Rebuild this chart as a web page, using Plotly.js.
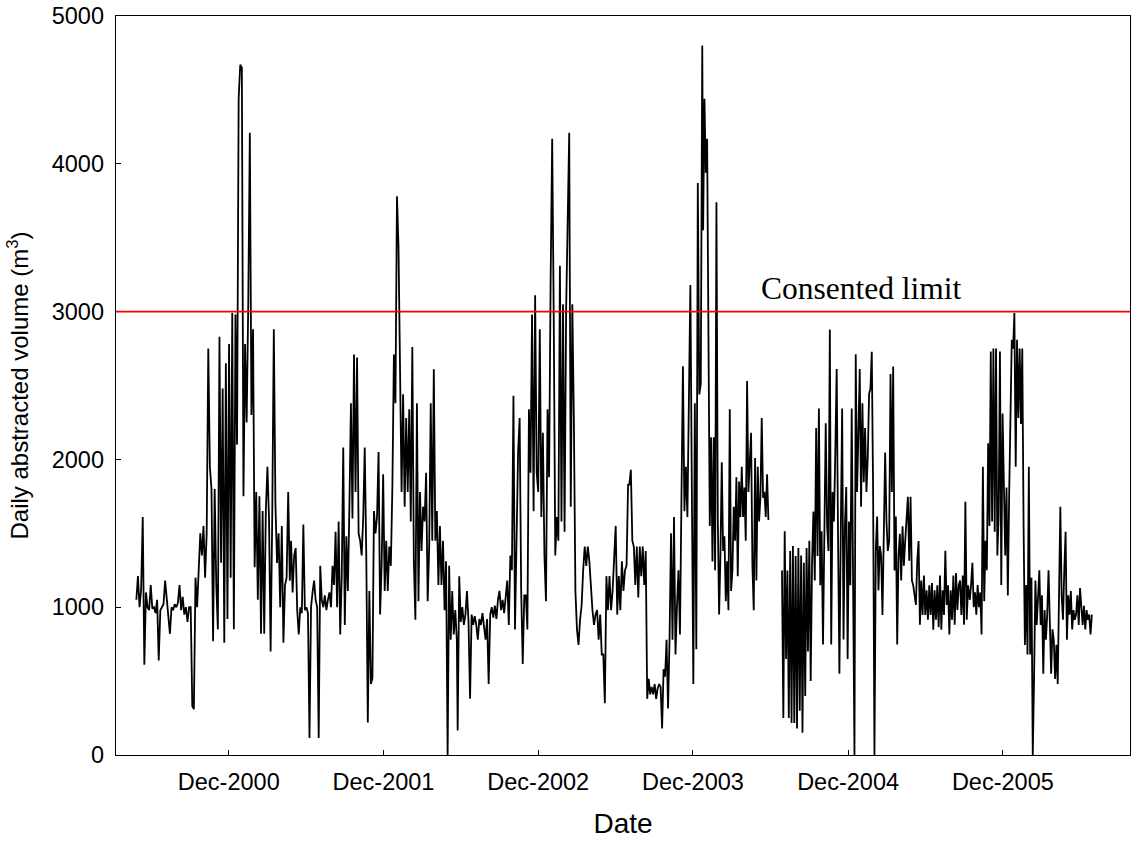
<!DOCTYPE html>
<html>
<head>
<meta charset="utf-8">
<script src="https://cdn.plot.ly/plotly-3.0.1.min.js"></script>
<style>html,body{margin:0;padding:0;background:#fff;}</style>
</head>
<body>
<div id="chart" style="width:1131px;height:841px;"></div>
<script>
// Each stretch of readings runs evenly from its start date to its end date.
const segStarts = ['2000-04-27', '2001-04-27', '2002-05-25', '2003-07-04', '2003-12-25', '2004-06-28', '2004-12-19', '2005-09-14'];
const segEnds   = ['2001-04-24', '2002-05-23', '2003-07-01', '2003-12-23', '2004-05-27', '2004-12-16', '2005-09-10', '2006-06-29'];
// true = no data between this stretch and the next one
const gapAfter  = [false, false, false, false, true, false, false, false];

const volA = [1050,1210,1000,1120,1610,610,1100,1000,980,1150,
  990,1000,960,1050,640,980,1000,1020,1180,1060,
  950,820,1000,980,1020,1000,1030,1150,980,1070,
  950,1000,900,1000,1000,330,310,1200,1000,1250,
  1500,1350,1550,1200,1500,2750,1950,1800,770,1800,
  1150,850,2830,1300,2480,760,2650,920,2780,1200,
  2990,850,2980,2100,4440,4670,4650,1750,2780,2250,
  3040,4210,2300,2880,1270,1780,1050,1750,820,1650,
  820,1650,1950,1600,700,1600,2880,1700,1300,1500,
  1000,1550,760,1150,1200,1780,1180];

const volB = [1450,1100,1350,1400,980,815,1000,960,1560,980,
  1000,960,115,1000,1100,1180,1050,1000,115,1280,
  1050,1000,1080,980,1050,1100,1000,1280,1150,1510,
  1000,1580,815,1200,2080,880,1480,1110,1680,2380,
  1600,2710,1780,2690,1500,1450,1350,1600,2080,1350,
  220,1110,480,520,1650,1500,1610,2050,950,1280,
  1900,1110,1450,1110,1410,1280,1810,2710,2380,3780,
  3440,2680,1780,2440,1680,2280,1780,2340,1580,2760,
  1310,915,2380,1040,1780,1380,1680,1580,1910,1040,
  1410,2380,1450,2610,1450,1650,1150,1550,1150,1450,
  980,1310,0,1280,780,1110,815,980,780];

const volC = [165,1210,900,1000,880,950,1110,900,380,950,
  880,940,880,780,920,880,960,870,780,920,
  480,950,1000,930,1010,920,1050,1110,980,1050,
  960,1070,1180,880,1350,1250,2430,850,1510,2050,
  2280,1110,615,1080,1080,850,2340,1910,2980,1650,
  3110,1910,1780,2880,1610,2180,1350,1040,2340,1880,
  3210,4170,2980,1350,1610,1450,3310,1580,3050,1510,
  3010,3510,4210,1680,3050,2280,1110,850,745,915,
  1010,1250,1410,1280,1410,1310,1110,980,880,950,
  980,780,950,680,680,350,1210,980,1210,980,
  1110,1370,1550,950,1210,980,1310,1110,1250,1280,
  1830];

// Jul 2003 up to the Dec 2003 maximum
const volD1 = [1830,1930,1450,1410,1150,1410,1065,1410,1210,1410,
  1150,1380,380,515,410,460,410,480,380,450,
  480,460,180,580,530,780,315,780,1500,780,
  1610,680,1010,1250,815,1580,2630,1650,1950,1610,
  2650,3180,1780,480,2380,715,3870,2440,2510,4800];

// after the Dec 2003 maximum to May 2004
const volD2 = [3550,4440,3940,4170,2840,1550,2150,1310,2150,1250,
  3740,1610,950,1350,1980,1380,1480,1040,1310,980,
  2340,1110,1250,1680,1450,1880,1210,1850,1610,1950,
  1610,1810,1450,2530,1780,2010,2180,1280,980,2010,
  1180,1950,1580,1740,2280,1740,1780,1610,1900,1590];

// Jun 2004 to mid Dec 2004
const volE1 = [1248,250,1514,649,1248,250,1381,216,1414,216,1347,
  180,1400,300,1350,150,1300,400,1400,700,1450,500,1300,
  1647,1181,2212,1347,2345,1148,1514,748,1547,2245,
  1547,1381,2878,748,1780,1580,2046,2611,1480,549,
  1514,2345,782,1547,1813,649,1580,1148,2345,1181,0];

// mid Dec 2004 to Sep 2005
const volE2 = [2711,1780,2179,2611,1680,2379,1846,2212,1780,
  2013,2445,2478,2728,1780,0,1381,1613,1114,1414,
  1347,948,1447,2046,1580,1381,1447,2578,1780,2628,
  1248,1613,748,1347,1497,1181,1547,1281,1447,1613,
  1747,1314,1747,1181,1148,1081,1015,1314,1447,882,
  1181,948,1214,948,1114,915,1148,948,1164,848,
  1114,915,1148,865,1214,848,1114,948,1381,1015,
  1148,815,1114,915,1214,882,1231,981,1148,1181,
  948,1214,882,1713,915,1148];

const volF = [1050,1150,1300,1000,1100,950,1150,1000,1100,815,
  1950,1040,1450,1250,2110,1550,2730,1580,2750,1510,
  2750,1350,1610,2730,1150,2310,1850,1350,1810,1080,
  1750,2440,2810,2750,2990,1950,2810,2280,2750,2240,
  2750,1550,745,1150,680,1950,680,1200,0,530,
  1180,880,1110,1250,880,1080,550,980,780,950,
  1250,850,550,850,780,515,745,480,1010,1680,
  1080,915,1250,1510,780,1080,950,1110,850,980,
  915,950,1080,880,1130,980,880,1010,850,980,
  915,950,815,950];

const segValues = [volA, volB, volC, volD1, volD2, volE1, volE2, volF];

const consentedLimit = 3000;
const limitLabel = 'Consented limit';

const tickDates  = ['2000-12-01','2001-12-01','2002-12-01','2003-12-01','2004-12-01','2005-12-01'];
const tickLabels = ['Dec-2000','Dec-2001','Dec-2002','Dec-2003','Dec-2004','Dec-2005'];
const yTicks = [0,1000,2000,3000,4000,5000];

function fmt(ms){ return new Date(ms).toISOString().slice(0,19).replace('T',' '); }

const xs = [], ys = [];
segValues.forEach(function(vals, s){
  const t0 = Date.parse(segStarts[s] + 'T00:00:00Z');
  const t1 = Date.parse(segEnds[s] + 'T00:00:00Z');
  const n = vals.length;
  vals.forEach(function(v, i){
    xs.push(fmt(t0 + (t1 - t0) * i / (n - 1)));
    ys.push(v);
  });
  if (gapAfter[s] && s < segValues.length - 1) {
    const tn = Date.parse(segStarts[s+1] + 'T00:00:00Z');
    xs.push(fmt((t1 + tn) / 2));
    ys.push(null);
  }
});

const trace = {
  type: 'scatter', mode: 'lines', x: xs, y: ys,
  line: {color: '#000', width: 1.8}, connectgaps: false, hoverinfo: 'skip'
};

const fontFam = 'Arial, "Liberation Sans", Helvetica, sans-serif';

const layout = {
  width: 1131, height: 841,
  margin: {l: 116, r: 1, t: 16, b: 86, pad: 0},
  paper_bgcolor: '#fff', plot_bgcolor: '#fff',
  showlegend: false,
  font: {family: fontFam, color: '#000'},
  xaxis: {
    type: 'date', range: ['2000-03-10', '2006-09-27'],
    tickmode: 'array', tickvals: tickDates, ticktext: tickLabels,
    ticks: 'inside', ticklen: 5, tickwidth: 1, tickcolor: '#000',
    showline: true, linecolor: '#000', linewidth: 1.3, mirror: true,
    showgrid: false, zeroline: false, automargin: false,
    tickfont: {size: 23.5, family: fontFam, color: '#000'},
    ticklabelstandoff: 5,
    title: {text: 'Date', font: {size: 28, family: fontFam, color: '#000'}, standoff: 20}
  },
  yaxis: {
    range: [0, 5000], tickmode: 'array', tickvals: yTicks,
    ticks: 'inside', ticklen: 5, tickwidth: 1, tickcolor: '#000',
    showline: true, linecolor: '#000', linewidth: 1.3, mirror: true,
    showgrid: false, zeroline: false, automargin: false,
    tickfont: {size: 23.5, family: fontFam, color: '#000'},
    ticklabelstandoff: 6,
    title: {text: 'Daily abstracted volume (m<sup>3</sup>)', font: {size: 24, family: fontFam, color: '#000'}, standoff: 16}
  },
  shapes: [{
    type: 'line', xref: 'paper', x0: 0, x1: 1, yref: 'y', y0: consentedLimit, y1: consentedLimit,
    line: {color: '#ff0000', width: 1.8}, layer: 'above'
  }],
  annotations: [{
    text: limitLabel, xref: 'paper', x: 0.735, yref: 'y', y: consentedLimit,
    xanchor: 'center', yanchor: 'bottom', yshift: 4, showarrow: false,
    font: {family: '"Liberation Serif", "Times New Roman", Times, serif', size: 31.5, color: '#000'}
  }]
};

Plotly.newPlot('chart', [trace], layout, {displayModeBar: false, staticPlot: true});
</script>
</body>
</html>
